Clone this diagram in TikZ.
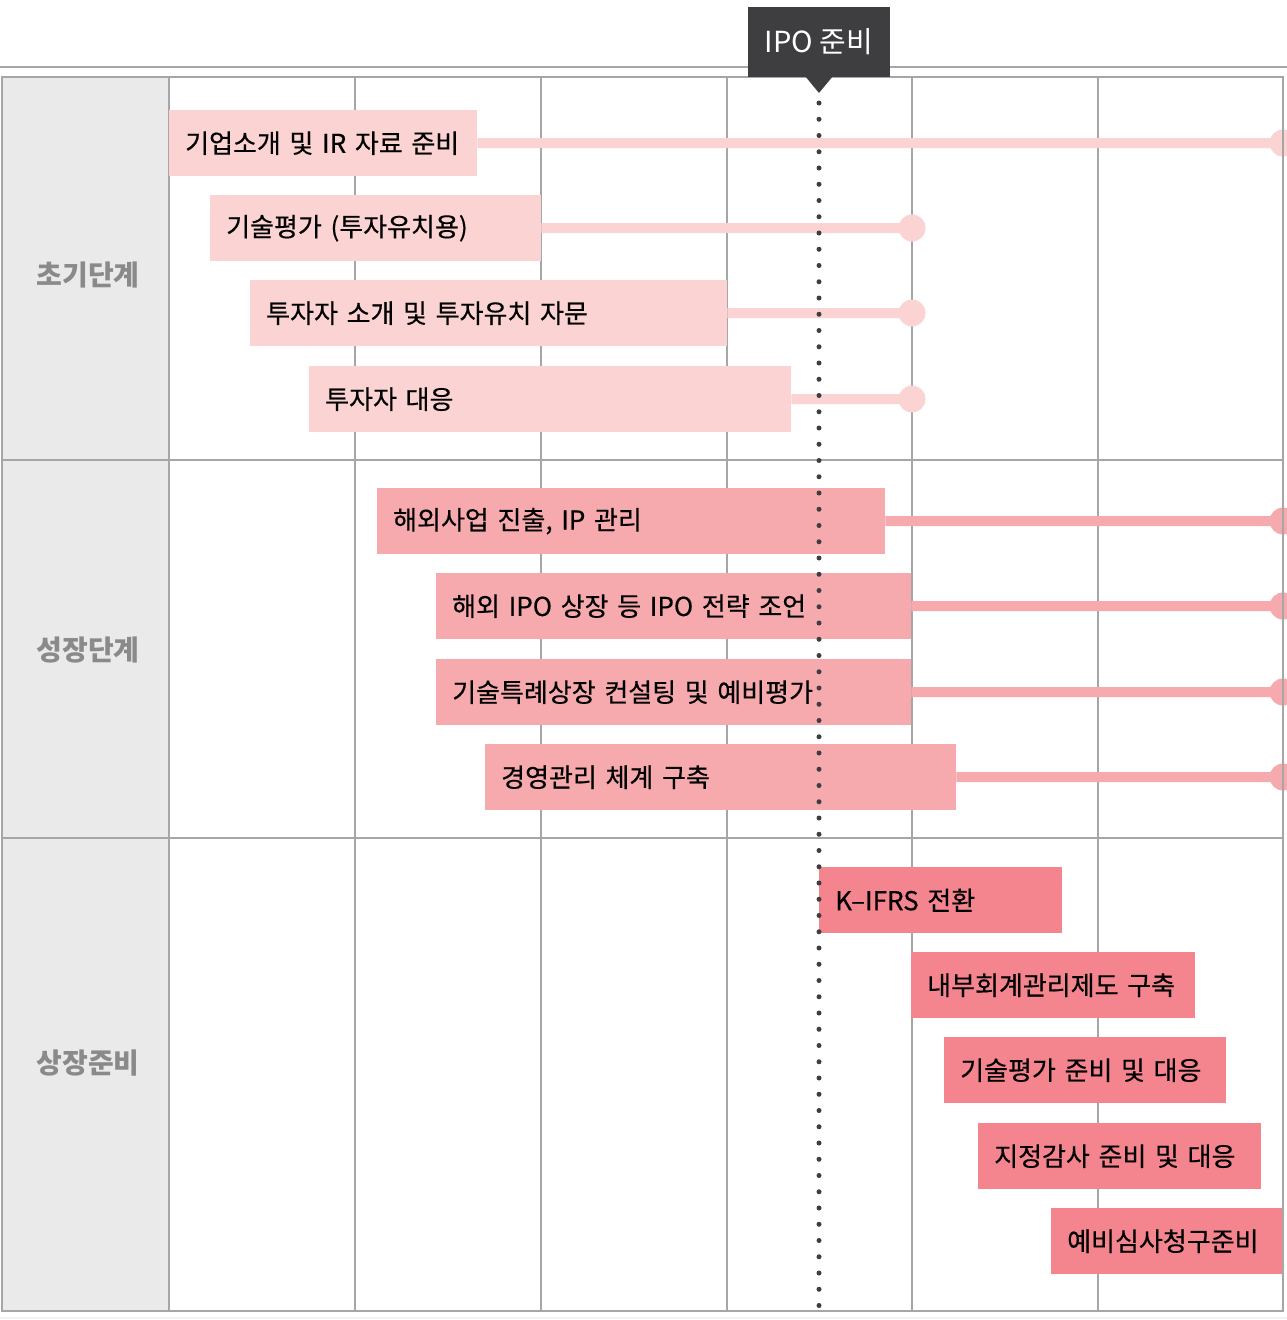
\documentclass[tikz,border=0pt]{standalone}
\usepackage{fontspec}
\newfontfamily\kr{Noto Sans CJK KR}
\newfontfamily\krm[FakeBold=0.45]{Noto Sans CJK KR}
\definecolor{cA}{HTML}{FAD3D2}
\definecolor{cB}{HTML}{F6AAAD}
\definecolor{cC}{HTML}{F4848E}
\definecolor{lgray}{HTML}{EAEAEA}
\definecolor{grid}{HTML}{A6A6A6}
\definecolor{lbl}{HTML}{8A8A8A}
\definecolor{dark}{HTML}{3E3E40}
\definecolor{faint}{HTML}{F2F2F2}
\begin{document}
\begin{tikzpicture}[x=1pt,y=-1pt,
  gridline/.style={draw=grid,line width=1.3pt},
  bx/.style={anchor=north west,inner xsep=16pt,inner ysep=0pt,minimum height=66pt,align=left,
    font=\krm\fontsize{26}{30}\selectfont,text=black},
  endc/.style={circle,inner sep=0pt,minimum size=27pt},
  ln/.style={line width=10pt},
  phase/.style={font=\kr\bfseries\fontsize{28}{32}\selectfont,text=lbl},
  hdr/.style={fill=dark,text=white,minimum width=142pt,minimum height=70pt,inner sep=0pt,
    font=\kr\fontsize{29}{33}\selectfont},
  dots/.style={draw=dark,line width=5pt,line cap=round,dash pattern=on 0pt off 16.25pt}]
\useasboundingbox (0,0) rectangle (1287,1320);
\clip (0,0) rectangle (1287,1320);
% top rule and faint bottom rule
\draw[grid,line width=1.3pt] (0,67) -- (1287,67);
\draw[faint,line width=2pt] (0,1318) -- (1287,1318);
% table
\fill[lgray] (2,77) rectangle (169,1311);
\foreach \x in {169,355,541,727,912,1098}{\draw[gridline] (\x,77) -- (\x,1311);}
\foreach \y in {460,838}{\draw[gridline] (2,\y) -- (1283,\y);}
% phase labels
\node[phase] (p1) at (88,275) {초기단계};
\node[phase] (p2) at (88,650) {성장단계};
\node[phase] (p3) at (88,1063) {상장준비};
% group 1
\node[bx,fill=cA,text width=276pt] (b1) at (169,110) {기업소개 및 IR 자료 준비};
\node[bx,fill=cA,text width=299pt] (b2) at (210,195) {기술평가 (투자유치용)};
\node[bx,fill=cA,text width=445pt] (b3) at (250,280) {투자자 소개 및 투자유치 자문};
\node[bx,fill=cA,text width=450pt] (b4) at (309,366) {투자자 대응};
\node[endc,fill=cA] (e1) at (1283,143) {};
\node[endc,fill=cA] (e2) at (912,228) {};
\node[endc,fill=cA] (e3) at (912,313) {};
\node[endc,fill=cA] (e4) at (912,399) {};
\draw[ln,cA] (b1.east) -- (e1.center);
\draw[ln,cA] (b2.east) -- (e2.center);
\draw[ln,cA] (b3.east) -- (e3.center);
\draw[ln,cA] (b4.east) -- (e4.center);
% group 2
\node[bx,fill=cB,text width=476pt] (b5) at (377,488) {해외사업 진출, IP 관리};
\node[bx,fill=cB,text width=443pt] (b6) at (436,573) {해외 IPO 상장 등 IPO 전략 조언};
\node[bx,fill=cB,text width=443pt] (b7) at (436,659) {기술특례상장 컨설팅 및 예비평가};
\node[bx,fill=cB,text width=439pt] (b8) at (485,744) {경영관리 체계 구축};
\node[endc,fill=cB] (e5) at (1283,521) {};
\node[endc,fill=cB] (e6) at (1283,606) {};
\node[endc,fill=cB] (e7) at (1283,692) {};
\node[endc,fill=cB] (e8) at (1283,777) {};
\draw[ln,cB] (b5.east) -- (e5.center);
\draw[ln,cB] (b6.east) -- (e6.center);
\draw[ln,cB] (b7.east) -- (e7.center);
\draw[ln,cB] (b8.east) -- (e8.center);
% group 3
\node[bx,fill=cC,text width=211pt] (b9) at (819,867) {K–IFRS 전환};
\node[bx,fill=cC,text width=252pt] (b10) at (911,952) {내부회계관리제도 구축};
\node[bx,fill=cC,text width=250pt] (b11) at (944,1037) {기술평가 준비 및 대응};
\node[bx,fill=cC,text width=251pt] (b12) at (978,1123) {지정감사 준비 및 대응};
\node[bx,fill=cC,text width=200pt] (b13) at (1051,1208) {예비심사청구준비};
% outer border
\draw[grid,line width=2pt] (2,77) rectangle (1283,1311);
% header marker
\node[hdr] (hdr) at (819,42) {IPO 준비};
\fill[dark] (805,76) -- (833,76) -- (819,93) -- cycle;
% dotted IPO line
\coordinate (dtop) at (819,103);
\coordinate (dbot) at (819,1306);
\draw[dots] (dtop) -- (dbot);
\end{tikzpicture}
\end{document}
